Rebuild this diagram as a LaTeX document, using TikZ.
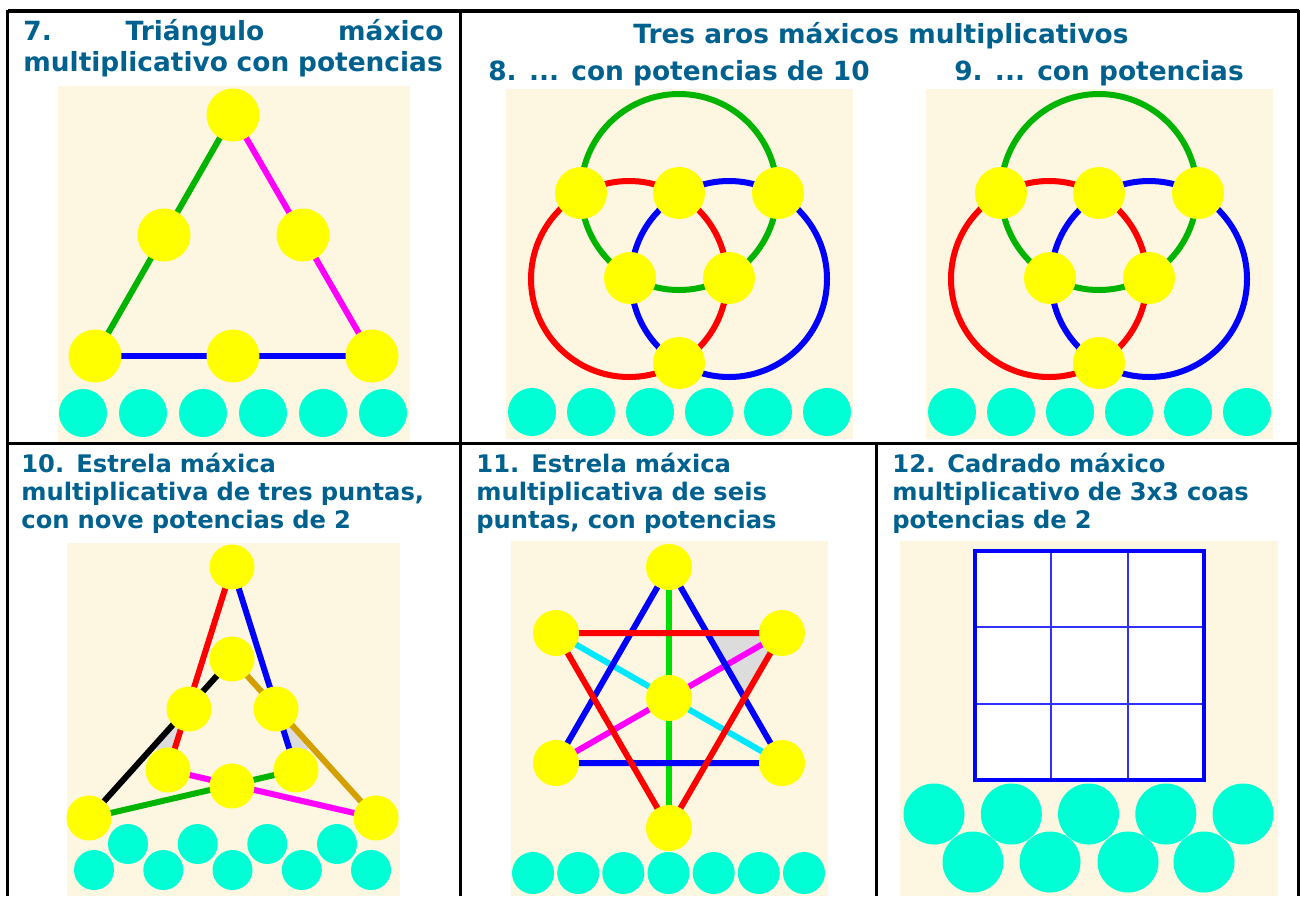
\documentclass[tikz,border=0pt]{standalone}
\usepackage{fontspec}
\setmainfont{DejaVu Sans}
\usepackage{tikz}
\usetikzlibrary{calc}
\definecolor{titleblue}{HTML}{00618F}
\definecolor{cream}{HTML}{FDF7E1}
\definecolor{discyellow}{HTML}{FFFF00}
\definecolor{aqua}{HTML}{00FFD5}
\definecolor{ringgreen}{HTML}{00B400}
\definecolor{brightgreen}{HTML}{00E000}
\definecolor{ringred}{HTML}{FF0000}
\definecolor{ringblue}{HTML}{0000FF}
\definecolor{pinkline}{HTML}{FF00FF}
\definecolor{gold}{HTML}{D4A000}
\definecolor{skycyan}{HTML}{00E8FF}
\definecolor{wedgegray}{HTML}{DCDCDC}
\definecolor{gridblue}{HTML}{3030FF}

\begin{document}
\begin{tikzpicture}[x=0.5pt,y=-0.5pt,
  bar/.style={line width=3pt},
  dot/.style={fill=discyellow},
  bead/.style={fill=aqua},
  panel/.style={fill=cream},
  rule/.style={line width=1.7pt},
  bigttl/.style={text=titleblue,inner sep=0pt,font=\bfseries\fontsize{13.2}{15.5}\selectfont},
  ttl/.style={anchor=base west,text=titleblue,inner sep=0pt,text width=230pt,align=left,
    font=\bfseries\fontsize{12.1}{14}\selectfont}]
  \useasboundingbox (0,0) rectangle (1300,896);

  % 7. triangle
  \fill[panel] (58,86) rectangle (410,442);
  \coordinate (p7top) at (233,115);
  \coordinate (p7ml) at (164,235);
  \coordinate (p7mr) at (303,235);
  \coordinate (p7bl) at (95,356);
  \coordinate (p7bm) at (233,356);
  \coordinate (p7br) at (372,356);
  \draw[bar, ringgreen] (p7top) -- (p7bl);
  \draw[bar, pinkline] (p7top) -- (p7br);
  \draw[bar, ringblue] (p7bl) -- (p7br);
  \foreach \p in {p7top,p7ml,p7mr,p7bl,p7bm,p7br}
    \fill[dot] (\p) circle (26.5);
  \foreach \x in {83,143,...,383}
    \fill[bead] (\x,413) circle (24);
  \node[ttl, text width=210pt, font=\bfseries\fontsize{13.2}{15.5}\selectfont] (ttl7) at (23,40)
    {7.\hfill Triángulo\hfill máxico\\multiplicativo con potencias};

  % 8. and 9. three rings
  \node[bigttl, anchor=base] (ttl89) at (881,43) {Tres aros máxicos multiplicativos};
  \node[bigttl, anchor=base] (ttl8) at (679,80) {8. ... con potencias de 10};
  \node[bigttl, anchor=base] (ttl9) at (1099,80) {9. ... con potencias};
  \foreach \dx in {0,420} {
    \begin{scope}[shift={(\dx,0)}]
      \fill[panel] (506,89) rectangle (853,439);
      \coordinate (gc) at (679,192);
      \coordinate (rc) at (629,279);
      \coordinate (bc) at (729,279);
      \draw[bar, ringgreen] (gc) circle (98);
      \draw[bar, ringred] (rc) circle (98);
      \draw[bar, ringblue] (bc) circle (98);
      \foreach \p in {(581,193),(679,193),(778,193),(630,278),(729,278),(679,363)}
        \fill[dot] \p circle (26);
      \foreach \x in {532,591,...,827}
        \fill[bead] (\x,412) circle (24);
    \end{scope}
  }

  % 10. three-pointed star
  \node[ttl] (ttl10) at (21,472) {10. Estrela máxica\\multiplicativa de tres puntas,\\con nove potencias de 2};
  \fill[panel] (67,543) rectangle (400,896);
  \coordinate (p10top) at (232,567);
  \coordinate (p10it) at (232,659);
  \coordinate (p10ml) at (189,709);
  \coordinate (p10mr) at (276,709);
  \coordinate (p10ll) at (168,770);
  \coordinate (p10lr) at (296,770);
  \coordinate (p10lm) at (232,786);
  \coordinate (p10bl) at (89,818);
  \coordinate (p10br) at (376,818);
  \fill[wedgegray] (p10ml) -- ($(p10it)!0.54!(p10bl)$) -- (p10ll) -- cycle;
  \fill[wedgegray] (p10mr) -- ($(p10it)!0.54!(p10br)$) -- (p10lr) -- cycle;
  \draw[bar, black] (p10it) -- (p10bl);
  \draw[bar, gold] (p10it) -- (p10br);
  \draw[bar, ringred] (p10top) -- (p10ll);
  \draw[bar, ringblue] (p10top) -- (p10lr);
  \draw[bar, pinkline] (p10ll) -- (p10br);
  \draw[bar, ringgreen] (p10bl) -- (p10lr);
  \foreach \p in {p10top,p10it,p10ml,p10mr,p10ll,p10lr,p10lm,p10bl,p10br}
    \fill[dot] (\p) circle (22.5);
  \foreach \x in {128,197.7,267.3,337}
    \fill[bead] (\x,844) circle (20);
  \foreach \x in {94,163.3,232.5,301.8,371}
    \fill[bead] (\x,870) circle (20);

  % 11. six-pointed star
  \node[ttl] (ttl11) at (476,472) {11. Estrela máxica\\multiplicativa de seis\\puntas, con potencias};
  \fill[panel] (511,541) rectangle (828,896);
  \coordinate (p11t) at (669,567);
  \coordinate (p11ul) at (556,633);
  \coordinate (p11ur) at (782,633);
  \coordinate (p11c) at (669,698);
  \coordinate (p11ll) at (556,763);
  \coordinate (p11lr) at (782,763);
  \coordinate (p11b) at (669,828);
  \fill[wedgegray] (p11ur) -- (707,633) -- (744.4,697.8) -- cycle;
  \draw[bar, brightgreen] (p11t) -- (p11b);
  \draw[bar, skycyan] (p11ul) -- (p11lr);
  \draw[bar, pinkline] (p11ll) -- (p11ur);
  \draw[bar, ringblue] (p11t) -- (p11ll) -- (p11lr) -- cycle;
  \draw[bar, ringred] (p11ul) -- (p11ur) -- (p11b) -- cycle;
  \foreach \p in {p11t,p11ul,p11ur,p11c,p11ll,p11lr,p11b}
    \fill[dot] (\p) circle (23);
  \foreach \x in {533,578.2,623.3,668.5,713.7,758.8,804}
    \fill[bead] (\x,873) circle (21);

  % 12. 3x3 square
  \node[ttl] (ttl12) at (892,472) {12. Cadrado máxico\\multiplicativo de 3x3 coas\\potencias de 2};
  \fill[panel] (900,541) rectangle (1278,896);
  \fill[white] (975,551) rectangle (1204,780);
  \foreach \k in {1,2} {
    \draw[gridblue, line width=1pt] (975+76.33*\k,551) -- (975+76.33*\k,780);
    \draw[gridblue, line width=1pt] (975,551+76.33*\k) -- (1204,551+76.33*\k);
  }
  \draw[ringblue, line width=2pt] (975,551) rectangle (1204,780);
  \foreach \x in {934,1011.3,1088.5,1165.8,1243}
    \fill[bead] (\x,814) circle (30.5);
  \foreach \x in {973,1050,1128,1204}
    \fill[bead] (\x,862) circle (30.5);

  % table rules
  \draw[rule] (7.5,11) -- (1298.5,11);
  \draw[rule] (7.5,443.5) -- (1298.5,443.5);
  \draw[rule] (7.5,10) -- (7.5,896);
  \draw[rule] (1298.5,10) -- (1298.5,896);
  \draw[rule] (460.5,11) -- (460.5,896);
  \draw[rule] (876.5,443.5) -- (876.5,896);
\end{tikzpicture}
\end{document}
